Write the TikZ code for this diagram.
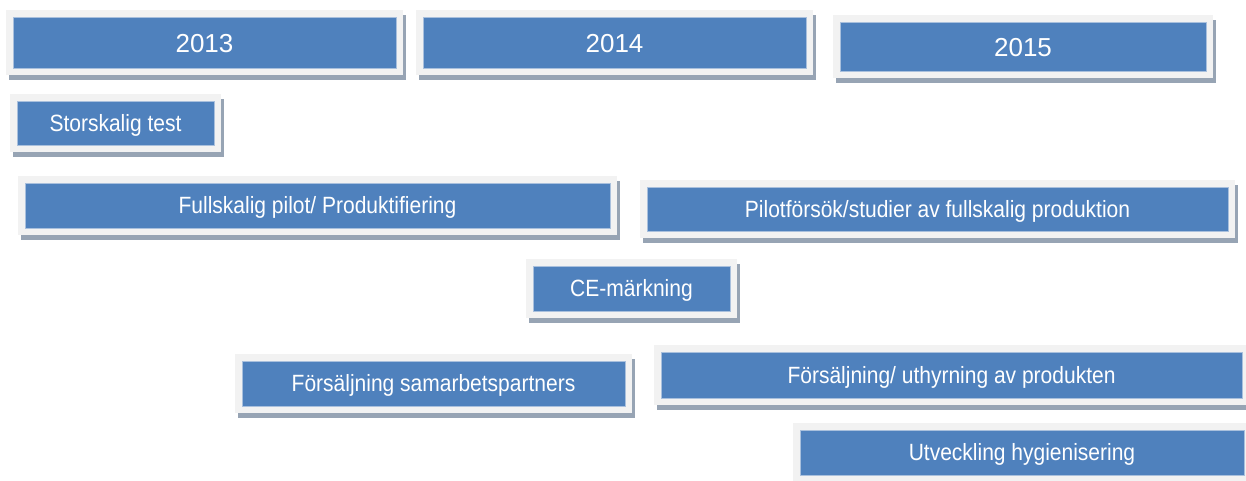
\documentclass[tikz,border=0pt]{standalone}
\usepackage{fontspec}
\setmainfont{Liberation Sans}
\definecolor{boxblue}{HTML}{4F81BD}
\definecolor{boxedge}{HTML}{A9C0DD}
\definecolor{framegray}{HTML}{F2F2F2}
\definecolor{shadowgray}{HTML}{97A4B4}
\newcommand{\vstretch}[1]{\scalebox{1}[1.12]{#1}}
\tikzset{
  gbox/.style={fill=boxblue, draw=boxedge, line width=0.6pt, text=white,
    inner sep=0pt, align=center,
    font=\fontsize{21}{25}\selectfont,
    text height=16.8pt, text depth=0pt,
    preaction={draw=shadowgray, fill=shadowgray, line width=14pt,
      transform canvas={shift={(3pt,-5pt)}}},
    preaction={draw=framegray, fill=framegray, line width=14pt}},
  yearbox/.style={gbox, font=\fontsize{26}{30}\selectfont,
    text height=19pt, text depth=0pt}
}
\begin{document}
\begin{tikzpicture}[x=1pt,y=-1pt]
\useasboundingbox (0,0) rectangle (1246,480);
\clip (0,0) rectangle (1246,480);
\node[yearbox, minimum width=383pt, minimum height=51pt] (y13) at (204.5,42.5) {2013};
\node[yearbox, minimum width=383pt, minimum height=51pt] (y14) at (614.5,42.5) {2014};
\node[yearbox, minimum width=366pt, minimum height=49pt] (y15) at (1023,46.5) {2015};
\node[gbox, minimum width=197pt, minimum height=44pt] (stor) at (115.5,123) {\vstretch{Storskalig test}};
\node[gbox, minimum width=585pt, minimum height=45pt] (full) at (317.5,205.5) {\vstretch{Fullskalig pilot/ Produktifiering}};
\node[gbox, minimum width=581pt, minimum height=44pt] (pilot) at (937.5,209) {\vstretch{Pilotförsök/studier av fullskalig produktion}};
\node[gbox, minimum width=197pt, minimum height=45pt] (ce) at (631.5,288.5) {\vstretch{CE-märkning}};
\node[gbox, minimum width=383pt, minimum height=45pt] (fsam) at (433.5,383.5) {\vstretch{Försäljning samarbetspartners}};
\node[gbox, minimum width=581pt, minimum height=46pt] (futh) at (951.5,375) {\vstretch{Försäljning/ uthyrning av produkten}};
\node[gbox, minimum width=444pt, minimum height=45pt] (utv) at (1022,452.5) {\vstretch{Utveckling hygienisering}};
\end{tikzpicture}
\end{document}
